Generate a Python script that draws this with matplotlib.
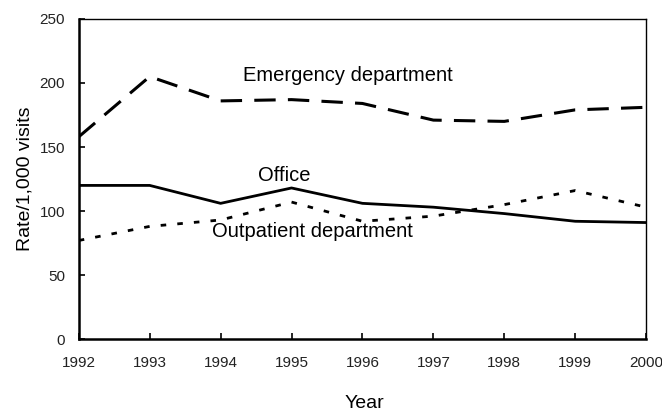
"""Rates per 1,000 visits by setting, 1992-2000"""
import matplotlib
matplotlib.use("Agg")
from matplotlib import pyplot as plt

years = [1992, 1993, 1994, 1995, 1996, 1997, 1998, 1999, 2000]
emergency = [158, 205, 186, 187, 184, 171, 170, 179, 181]
office = [120, 120, 106, 118, 106, 103, 98, 92, 91]
outpatient = [77, 88, 93, 107, 92, 96, 105, 116, 103]

plt.rcParams['font.family'] = ['Liberation Sans', 'DejaVu Sans']

fig = plt.figure(figsize=(6.62, 4.12), dpi=100)
ax = fig.add_axes([0.119, 0.177, 0.857, 0.777])

ax.plot(years, emergency, color='black', lw=2.2, dashes=(7, 4))
ax.plot(years, office, color='black', lw=2.0)
ax.plot(years, outpatient, color='black', lw=2.0, dashes=(2, 4))

ax.text(1995.8, 206, 'Emergency department', fontsize=14.5, ha='center', va='center')
ax.text(1994.9, 128, 'Office', fontsize=14.5, ha='center', va='center')
ax.text(1995.3, 84, 'Outpatient department', fontsize=14.5, ha='center', va='center')

ax.set_xlim(1992, 2000)
ax.set_ylim(0, 250)
ax.set_xticks(years)
ax.set_yticks(range(0, 251, 50))
ax.tick_params(direction='in', length=4, width=1.2, labelsize=11, labelcolor='#222222')
ax.tick_params(axis='x', pad=12)
ax.tick_params(axis='y', pad=10)
for s in ax.spines.values():
    s.set_linewidth(1.0)
ax.spines['left'].set_linewidth(1.8)
ax.spines['bottom'].set_linewidth(1.8)

ax.set_ylabel('Rate/1,000 visits', fontsize=14, labelpad=4)
fig.text(0.551, 0.02, 'Year', fontsize=14, ha='center', va='center')

fig.savefig('out.png', dpi=100)
